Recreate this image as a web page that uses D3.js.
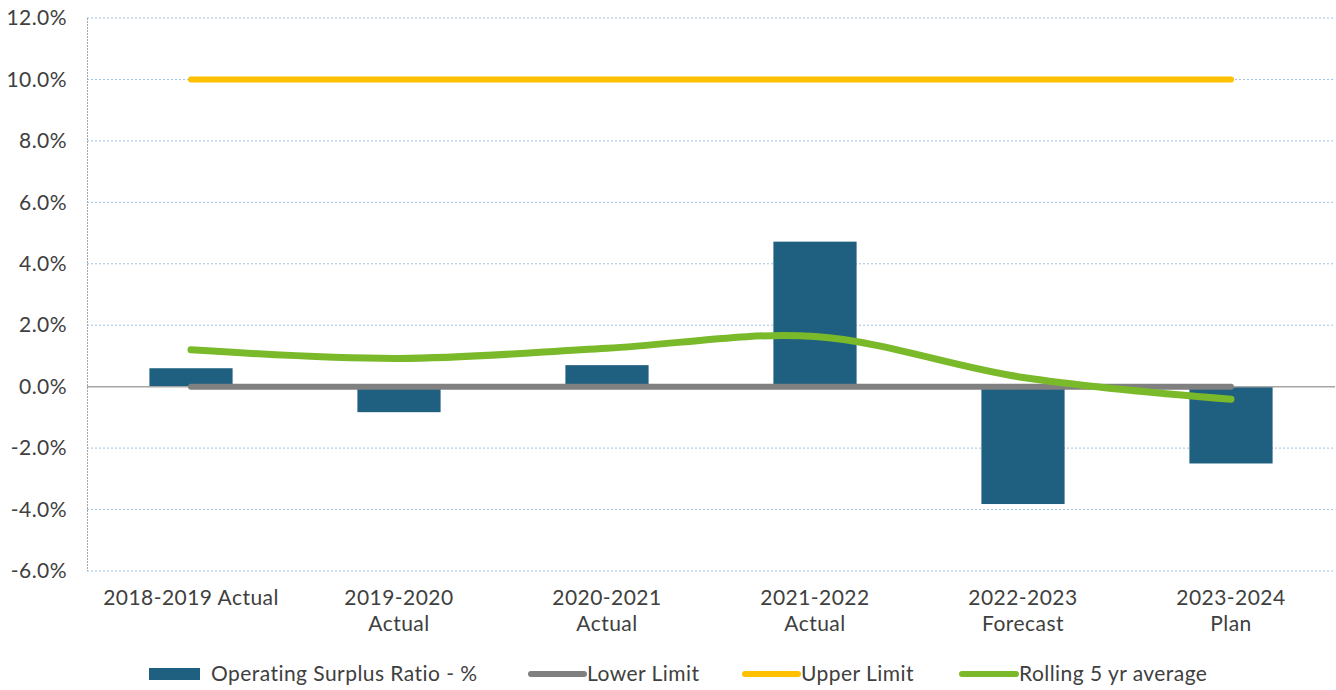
<!DOCTYPE html>
<html><head><meta charset="utf-8">
<script src="https://cdn.jsdelivr.net/npm/d3@7"></script>
<style>body{margin:0;background:#fff}svg{display:block}text{font-family:Lato,"Open Sans",sans-serif;fill:#404040;letter-spacing:0.45px}</style>
</head><body><svg id="c" width="1336" height="690"></svg>
<script>
const categories = [["2018-2019 Actual"],["2019-2020","Actual"],["2020-2021","Actual"],["2021-2022","Actual"],["2022-2023","Forecast"],["2023-2024","Plan"]];
const surplus = [0.6, -0.83, 0.7, 4.72, -3.82, -2.5];
const lowerLimit = [0,0,0,0,0,0];
const upperLimit = [10,10,10,10,10,10];
const rolling = [1.2, 0.92, 1.25, 1.63, 0.3, -0.41];
const yTicks = [-6,-4,-2,0,2,4,6,8,10,12];
const legendItems = ["Operating Surplus Ratio - %","Lower Limit","Upper Limit","Rolling 5 yr average"];

const svg = d3.select("#c");
const L = 87, R = 1335, T = 18, B = 571;
const FS = "21px";
const x = d3.scaleBand().domain(d3.range(6)).range([L,R]).paddingInner(0.6).paddingOuter(0.3);
const xc = i => x(i) + x.bandwidth()/2;
const y = d3.scaleLinear().domain([-6,12]).range([B,T]);

// gridlines
svg.append("g").selectAll("line").data(yTicks.filter(d=>d!==0)).join("line")
  .attr("x1",L).attr("x2",R).attr("y1",d=>y(d)).attr("y2",d=>y(d))
  .attr("stroke","#9dc3e6").attr("stroke-width",1).attr("stroke-dasharray","2,2");
// y axis line
svg.append("line").attr("x1",L+0.5).attr("x2",L+0.5).attr("y1",T).attr("y2",B)
  .attr("stroke","#a6a6a6").attr("stroke-dasharray","2,1");
// y labels
const ya = d3.axisLeft(y).tickValues(yTicks).tickFormat(d=>d.toFixed(1)+"%").tickSize(0).tickPadding(20);
const yg = svg.append("g").attr("transform",`translate(${L},0)`).call(ya);
yg.select(".domain").remove();
yg.selectAll("text").style("font-size",FS).attr("fill","#404040").style("font-family","Lato,sans-serif");

// bars
svg.append("g").selectAll("rect").data(surplus).join("rect")
  .attr("x",(d,i)=>x(i)).attr("width",x.bandwidth())
  .attr("y",d=>y(Math.max(0,d))).attr("height",d=>Math.abs(y(d)-y(0)))
  .attr("fill","#1f5f7f");
// zero axis
svg.append("line").attr("x1",L).attr("x2",R).attr("y1",y(0)).attr("y2",y(0)).attr("stroke","#a6a6a6").attr("stroke-width",1.5);

const line = d3.line().x((d,i)=>xc(i)).y(d=>y(d));
svg.append("path").datum(lowerLimit).attr("d",line).attr("fill","none").attr("stroke","#808080").attr("stroke-width",6).attr("stroke-linecap","round");
svg.append("path").datum(upperLimit).attr("d",line).attr("fill","none").attr("stroke","#ffc000").attr("stroke-width",6).attr("stroke-linecap","round");
svg.append("path").datum(rolling).attr("d",line.curve(d3.curveCatmullRom.alpha(0.5))).attr("fill","none").attr("stroke","#7ab929").attr("stroke-width",7).attr("stroke-linecap","round");

// x labels
const xl = svg.append("g");
categories.forEach((c,i)=>{
  const t = xl.append("text").attr("x",xc(i)).attr("y",605).attr("text-anchor","middle").style("font-size",FS);
  c.forEach((s,j)=>t.append("tspan").attr("x",xc(i)).attr("dy",j?26:0).text(s));
});

// legend
const lg = svg.append("g");
const ly = 674;
lg.append("rect").attr("x",149).attr("y",ly-6).attr("width",51).attr("height",12).attr("fill","#1f5f7f");
lg.append("text").attr("x",211).attr("y",ly+7).style("font-size",FS).text(legendItems[0]);
const lineLeg = [[531,584,"#808080",legendItems[1]],[745,798,"#ffc000",legendItems[2]],[962,1016,"#7ab929",legendItems[3]]];
lineLeg.forEach(([a,b,col,txt])=>{
  lg.append("line").attr("x1",a).attr("x2",b).attr("y1",ly).attr("y2",ly).attr("stroke",col).attr("stroke-width",6).attr("stroke-linecap","round");
  lg.append("text").attr("x",b+3).attr("y",ly+7).style("font-size",FS).text(txt);
});
</script></body></html>
